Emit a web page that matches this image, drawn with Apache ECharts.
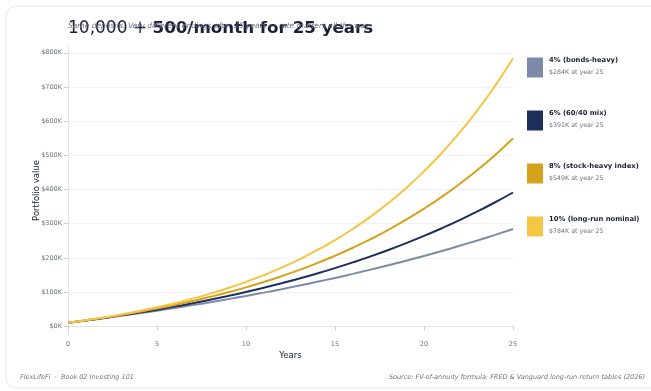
<!DOCTYPE html>
<html><head><meta charset="utf-8">
<script src="https://cdn.jsdelivr.net/npm/echarts@6/dist/echarts.min.js"></script>
<style>html,body{margin:0;padding:0;background:#fff;}#c{width:651px;height:391px;}</style>
</head><body><div id="c"></div>
<script>
const years = [0,1,2,3,4,5,6,7,8,9,10,11,12,13,14,15,16,17,18,19,20,21,22,23,24,25];
const seriesNames = ['4% (bonds-heavy)','6% (60/40 mix)','8% (stock-heavy index)','10% (long-run nominal)'];
const endLabels = ['$284K at year 25','$391K at year 25','$549K at year 25','$784K at year 25'];
const colors = ['#7d89a9','#1f2f5c','#d4a21b','#f4c644'];
const v4 = [10000,16519,23303,30364,37712,45360,53319,61603,70224,79196,88534,98252,108367,118893,129848,141250,153116,165466,178319,191695,205617,220105,235184,250877,267210,284208];
const v6 = [10000,16785,23988,31635,39754,48374,57525,67241,77556,88507,100134,112477,125583,139496,154268,169950,186600,204277,223044,242969,264122,286581,310424,335738,362614,391147];
const v8 = [10000,17055,24696,32970,41932,51637,62148,73531,85860,99211,113671,129330,146290,164657,184548,206091,229421,254688,282052,311688,343783,378542,416186,456954,501106,548923];
const v10 = [10000,17330,25427,34373,44255,55172,67232,80554,95272,111531,129493,149335,171256,195471,222222,251775,284422,320487,360329,404343,452966,506680,566019,631572,703989,783989];
const yTicks = [0,100000,200000,300000,400000,500000,600000,700000,800000];
const xTicks = [0,5,10,15,20,25];
const allVals = [v4,v6,v8,v10];

const chart = echarts.init(document.getElementById('c'));
const F = 'DejaVu Sans';
chart.setOption({
  backgroundColor:'#ffffff',
  animation:false,
  graphic:[{type:'rect',shape:{x:6,y:6,width:660,height:382,r:10},style:{fill:'#fff',stroke:'#e3e6ec',lineWidth:1},z:-10}],
  title:[
    {left:68,top:20,padding:0,text:'{a|10,000 + }{b|500/month for 25 years}',textStyle:{rich:{
      a:{fontFamily:F,fontSize:17,fontWeight:'normal',color:'#1a1f36'},
      b:{fontFamily:F,fontSize:16.7,fontWeight:'bold',color:'#1a1f36'}}}},
    {left:68,top:22,padding:0,text:'Same deposits. Very different endings after 25 years \u2014 rate matters all the way.',
     textStyle:{fontFamily:F,fontSize:7.5,fontStyle:'italic',fontWeight:'normal',color:'#6b7280'}},
    {left:20,top:374,padding:0,text:'FlexLifeFi  \u00b7  Book 02 Investing 101',textStyle:{fontFamily:F,fontSize:6.5,fontStyle:'italic',fontWeight:'normal',color:'#6b7280'}},
    {right:6,top:374,padding:0,text:'Source: FV-of-annuity formula; FRED & Vanguard long-run return tables (2026)',textStyle:{fontFamily:F,fontSize:6.5,fontStyle:'italic',fontWeight:'normal',color:'#6b7280'}}
  ],
  legend:{
    orient:'vertical',left:527,top:57,padding:0,icon:'rect',itemWidth:16,itemHeight:20,itemGap:32.5,
    data:seriesNames,selectedMode:false,
    formatter:function(n){return '{t|'+n+'}\n{s|'+endLabels[seriesNames.indexOf(n)]+'}';},
    textStyle:{padding:[0,0,3,1],rich:{
      t:{fontFamily:F,fontSize:6.8,fontWeight:'bold',color:'#1a1f36',lineHeight:12},
      s:{fontFamily:F,fontSize:6.3,color:'#6b7280',lineHeight:11}}}
  },
  grid:{left:68,right:138,top:45,bottom:55,containLabel:false},
  xAxis:{type:'value',min:0,max:25,interval:5,
    name:'Years',nameLocation:'middle',nameGap:15,nameMoveOverlap:false,nameTextStyle:{fontFamily:F,fontSize:8.5,color:'#1a1f36'},
    axisLine:{show:true,lineStyle:{color:'#e3e6ee'}},
    axisTick:{show:true,length:4,lineStyle:{color:'#c9cdd6'}},
    axisLabel:{fontFamily:F,fontSize:6.5,color:'#6b7280',margin:5},
    splitLine:{show:false}},
  yAxis:{type:'value',min:-28700,max:822700,
    name:'Portfolio value',nameLocation:'middle',nameGap:27,nameMoveOverlap:false,nameTextStyle:{fontFamily:F,fontSize:8.5,color:'#1a1f36'},
    axisLine:{show:true,lineStyle:{color:'#e3e6ee'}},
    axisTick:{show:true,length:4,lineStyle:{color:'#c9cdd6'},customValues:yTicks},
    axisLabel:{fontFamily:F,fontSize:6.5,color:'#6b7280',margin:6,customValues:yTicks,
      formatter:function(v){return '$'+Math.round(v/1000)+'K';}},
    splitLine:{show:true,lineStyle:{color:'#f0f1f5',width:1}}},
  series: seriesNames.map((n,i)=>({
    name:n,type:'line',smooth:true,showSymbol:false,symbol:'none',
    data: years.map((y,j)=>[y,allVals[i][j]]),
    lineStyle:{color:colors[i],width:2},itemStyle:{color:colors[i]}
  }))
});
</script></body></html>
